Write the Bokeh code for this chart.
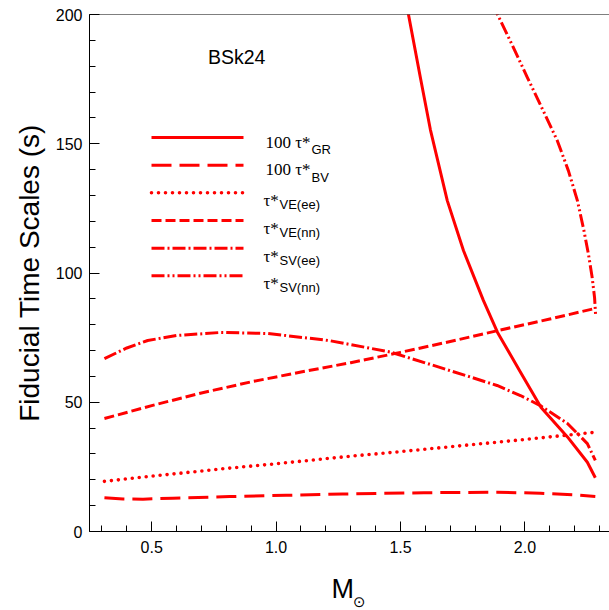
from bokeh.plotting import figure
from bokeh.models import Range1d, Span, Label, Title, SingleIntervalTicker, NumeralTickFormatter
from bokeh.embed import file_html
from bokeh.resources import INLINE

# ---------------- data ----------------
gr_mass = [1.49, 1.532, 1.58, 1.62, 1.688, 1.753, 1.833, 1.89, 1.98, 2.065, 2.171, 2.251, 2.283]
gr_tau100 = [222, 200, 175.5, 155.5, 128, 108.7, 89.4, 77.0, 62.0, 48.0, 36.6, 26.8, 20.8]

bv_mass = [0.31, 0.385, 0.465, 0.585, 0.813, 1.04, 1.267, 1.594, 1.888, 2.062, 2.196, 2.283]
bv_tau100 = [13.1, 12.6, 12.5, 12.9, 13.5, 14.0, 14.5, 15.0, 15.2, 14.8, 14.2, 13.5]

vee_mass = [0.31, 0.5, 0.8, 1.0, 1.275, 1.5, 2.0, 2.283]
vee_tau = [19.4, 21.4, 24.4, 26.2, 28.9, 30.9, 35.6, 38.4]

vnn_mass = [0.31, 0.5, 0.7, 0.9, 1.1, 1.3, 1.5, 1.7, 1.9, 2.1, 2.283]
vnn_tau = [43.7, 48.7, 53.6, 57.9, 61.7, 65.3, 69.3, 73.5, 77.9, 82.2, 86.3]

sve_mass = [0.31, 0.40, 0.484, 0.60, 0.777, 0.966, 1.211, 1.46, 1.661, 1.888, 1.982, 2.062, 2.171, 2.251, 2.283]
sve_tau = [66.9, 71.0, 73.9, 75.8, 77.0, 76.6, 73.9, 69.4, 63.4, 56.5, 52.6, 48.7, 41.8, 34.0, 27.5]

svn_mass = [1.86, 1.89, 1.95, 2.01, 2.07, 2.131, 2.175, 2.211, 2.237, 2.255, 2.270, 2.280, 2.284]
svn_tau = [206, 200, 188, 175.6, 163.5, 151, 139.5, 128, 116.5, 107.5, 98.5, 90.5, 84.0]

legend_main = ["100 \u03c4*", "100 \u03c4*", "\u03c4*", "\u03c4*", "\u03c4*", "\u03c4*"]
legend_sub = ["GR", "BV", "VE(ee)", "VE(nn)", "SV(ee)", "SV(nn)"]

# ---------------- layout ----------------
X0, X1 = 0.25, 2.34
Y0, Y1 = 0, 200
FL, FR, FT, FB = 89, 609, 14, 531
W, H = 609, 610

def dx(px):
    return X0 + (px - FL) * (X1 - X0) / (FR - FL)

def dy(py):
    return Y0 + (FB - py) * (Y1 - Y0) / (FB - FT)

RED = "#ff0000"
styles = [
    dict(line_dash="solid", line_width=3, line_cap="butt"),
    dict(line_dash="20 8", line_width=3, line_cap="butt"),
    dict(line_dash="0 7", line_width=3.6, line_cap="round"),
    dict(line_dash="10 4", line_width=3, line_cap="butt"),
    dict(line_dash="13 3 2 3", line_width=3, line_cap="butt"),
    dict(line_dash="13 3 2 3 2 3", line_width=3, line_cap="butt"),
]

p = figure(width=W, height=H, x_range=Range1d(X0, X1), y_range=Range1d(Y0, Y1),
           output_backend="svg", toolbar_location=None, title=None,
           min_border_left=FL, min_border_right=W - FR, min_border_top=FT,
           min_border_bottom=H - FB)
p.outline_line_color = None
p.grid.visible = False
p.background_fill_color = "white"
p.border_fill_color = "white"

series = [(gr_mass, gr_tau100), (bv_mass, bv_tau100), (vee_mass, vee_tau),
          (vnn_mass, vnn_tau), (sve_mass, sve_tau), (svn_mass, svn_tau)]
for (xs, ys), st in zip(series, styles):
    p.line(xs, ys, line_color=RED, line_join="round", **st)

# top border of the frame
p.add_layout(Span(location=Y1, dimension="width", line_color="black", line_width=1))

# axes
for ax in (p.xaxis[0], p.yaxis[0]):
    ax.axis_line_color = "black"
    ax.axis_line_width = 1
    ax.major_tick_in = 10
    ax.major_tick_out = 0
    ax.minor_tick_in = 6
    ax.minor_tick_out = 0
    ax.major_tick_line_color = "black"
    ax.minor_tick_line_color = "black"
    ax.major_label_text_font = "Liberation Sans"
    ax.major_label_text_font_size = "16px"
    ax.major_label_text_color = "black"

p.xaxis.ticker = SingleIntervalTicker(interval=0.5, num_minor_ticks=5)
p.xaxis.formatter = NumeralTickFormatter(format="0.0")
p.xaxis.major_label_standoff = 9
p.xaxis.axis_label = "M\u2002"
p.xaxis.axis_label_text_font = "Liberation Sans"
p.xaxis.axis_label_text_font_size = "27px"
p.xaxis.axis_label_text_font_style = "normal"
p.xaxis.axis_label_text_color = "black"
p.xaxis.axis_label_standoff = 18

p.yaxis.ticker = SingleIntervalTicker(interval=50, num_minor_ticks=5)
p.yaxis.major_label_standoff = 7
p.yaxis.axis_label = "Fiducial Time Scales (s)"
p.yaxis.axis_label_text_font = "Liberation Sans"
p.yaxis.axis_label_text_font_size = "28px"
p.yaxis.axis_label_text_font_style = "normal"
p.yaxis.axis_label_text_color = "black"
p.yaxis.axis_label_standoff = 8

# subscript sun symbol of the x-axis title
p.add_layout(Title(text="\u2299", align="left", offset=263.5, vertical_align="top",
                   standoff=-27, text_font="DejaVu Sans", text_font_size="15px",
                   text_font_style="normal", text_color="black"), "below")

# model label
p.add_layout(Label(x=dx(207.5), y=dy(56), text="BSk24", text_font="Liberation Sans",
                   text_font_size="19.5px", text_color="black", text_baseline="alphabetic"))

# legend (drawn by hand to allow subscripts)
for i, st in enumerate(styles):
    ly = 137 + i * 27.66
    p.line([dx(151), dx(243)], [dy(ly), dy(ly)], line_color=RED, **st)
    if i < 2:
        mx, mb, sx = 265, ly + 4.5, 311
    else:
        mx, mb, sx = 263, ly + 8, 279
    p.add_layout(Label(x=dx(mx), y=dy(mb), text=legend_main[i], text_font="Liberation Serif",
                       text_font_size="17px", text_color="black", text_baseline="alphabetic"))
    p.add_layout(Label(x=dx(sx), y=dy(ly + 12), text=legend_sub[i], text_font="Liberation Sans",
                       text_font_size="13px", text_color="black", text_baseline="alphabetic"))

open("out.html", "w").write(file_html(p, INLINE))
